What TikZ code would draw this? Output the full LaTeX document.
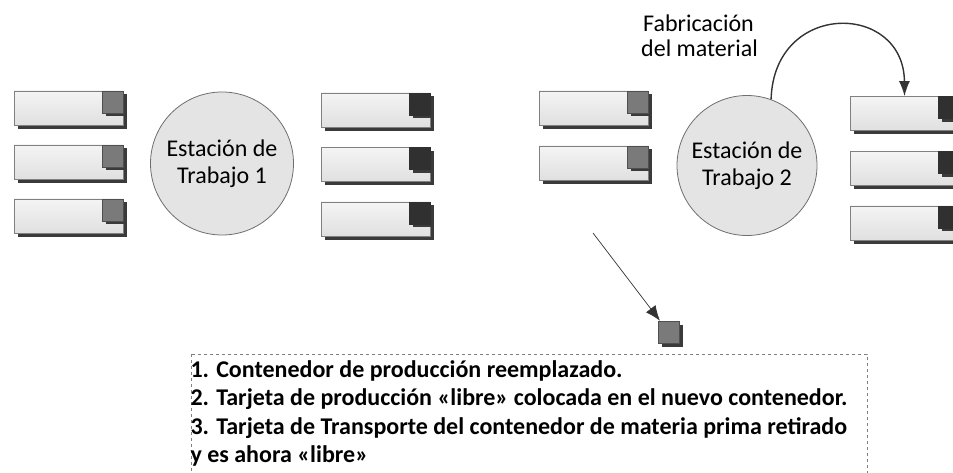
\documentclass[tikz,border=0pt]{standalone}
\usepackage{fontspec}
\setmainfont{Carlito}
\usepackage{tikz}
\usetikzlibrary{arrows.meta}
\usetikzlibrary{shadows}

\definecolor{boxline}{HTML}{808080}
\definecolor{boxtop}{HTML}{F4F4F4}
\definecolor{boxbot}{HTML}{E0E0E0}
\definecolor{shadowc}{HTML}{3A3A3A}
\definecolor{cardgray}{HTML}{7A7A7A}
\definecolor{cardgrayline}{HTML}{4F4F4F}
\definecolor{carddark}{HTML}{303030}
\definecolor{circfill}{HTML}{E4E4E4}
\definecolor{circline}{HTML}{6E6E6E}
\definecolor{arrowc}{HTML}{333333}

\begin{document}
\begin{tikzpicture}[x=1pt,y=-1pt,
  contbox/.style={draw=boxline, line width=0.8pt, top color=boxtop, bottom color=boxbot,
    minimum width=109pt, minimum height=34pt, inner sep=0pt,
    general shadow={fill=shadowc, shadow xshift=4pt, shadow yshift=-4pt}},
  cardbase/.style={minimum width=21pt, minimum height=22pt, inner sep=0pt, anchor=north east,
    line width=0.6pt,
    general shadow={fill=shadowc, shadow xshift=3.5pt, shadow yshift=-3.5pt}},
  cardprod/.style={cardbase, fill=cardgray, draw=cardgrayline},
  cardtrans/.style={cardbase, fill=carddark, draw=carddark},
  station/.style={circle, draw=circline, fill=circfill, line width=0.8pt,
    inner sep=0pt, align=center, font=\fontsize{24}{27}\selectfont}]

\useasboundingbox (0,0) rectangle (953,473);

% estacion 1
\node[station, minimum size=143pt] (w1) at (222,163.5) {Estación de\\Trabajo 1};

\node[contbox] (pl1) at ( 68.5,108) {};
\node[cardprod] (pl1c) at (pl1.north east) {};
\node[contbox] (pl2) at ( 68.5,162) {};
\node[cardprod] (pl2c) at (pl2.north east) {};
\node[contbox] (pl3) at ( 68.5,216) {};
\node[cardprod] (pl3c) at (pl3.north east) {};

\node[contbox] (pr1) at (375.5,110) {};
\node[cardtrans] (pr1c) at (pr1.north east) {};
\node[contbox] (pr2) at (375.5,164.5) {};
\node[cardtrans] (pr2c) at (pr2.north east) {};
\node[contbox] (pr3) at (375.5,219) {};
\node[cardtrans] (pr3c) at (pr3.north east) {};

% estacion 2
\node[station, minimum size=140pt] (w2) at (747,165.5) {Estación de\\Trabajo 2};

\node[contbox] (ql1) at (593.5,108) {};
\node[cardprod] (ql1c) at (ql1.north east) {};
\node[contbox] (ql2) at (593.5,163) {};
\node[cardprod] (ql2c) at (ql2.north east) {};

\node[contbox] (qr1) at (904.5,113.5) {};
\node[cardtrans] (qr1c) at (qr1.north east) {};
\node[contbox] (qr2) at (904.5,168.5) {};
\node[cardtrans] (qr2c) at (qr2.north east) {};
\node[contbox] (qr3) at (904.5,223) {};
\node[cardtrans] (qr3c) at (qr3.north east) {};

% fabricacion
\begin{scope}[anchor=base, inner sep=0pt, outer sep=0pt, font=\fontsize{24}{27}\selectfont]
\node (fab1) at (698.5,31.5) {Fabricación};
\node (fab2) at (699.5,57) {del material};
\end{scope}

\draw[arrowc, line width=1.4pt, -{Latex[length=15pt,width=11pt]}]
  (w2.70) .. controls (774,0) and (904,2) .. (qr1.north);

% tarjeta libre
\node[cardprod, anchor=center] (libre) at (668.5,332) {};
\coordinate (libreo) at (593,233);
\draw[arrowc, line width=0.7pt, -{Latex[length=15pt,width=12pt]}] (libreo) -- (libre);

% notas
\draw[boxline, dashed, line width=0.6pt] (191,354) rectangle (867,490);

\begin{scope}[anchor=base west, inner sep=0pt, outer sep=0pt, font=\fontsize{24}{28}\selectfont\bfseries]
\node (t1) at (190.5,377) {1. Contenedor de producción reemplazado.};
\node (t2) at (190.5,405.5) {2. Tarjeta de producción «libre» colocada en el nuevo contenedor.};
\node (t3) at (190.5,434) {3. Tarjeta de Transporte del contenedor de materia prima retirado};
\node (t4) at (190.5,462) {y es ahora «libre»};
\end{scope}

\end{tikzpicture}
\end{document}
